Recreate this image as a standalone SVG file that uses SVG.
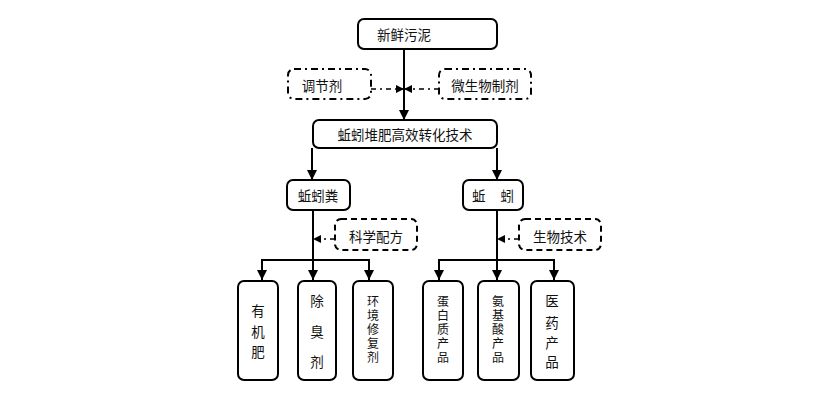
<svg xmlns="http://www.w3.org/2000/svg" width="840" height="399" viewBox="0 0 840 399">
<style>
.box{fill:#fff;stroke:#000;stroke-width:2}
.dd{fill:#fff;stroke:#000;stroke-width:2;stroke-dasharray:7 4 2 4}
.ds{fill:#fff;stroke:#000;stroke-width:2;stroke-dasharray:6 4}
.ln{fill:none;stroke:#000;stroke-width:2}
.dl{fill:none;stroke:#000;stroke-width:1.6;stroke-dasharray:5 4 2 4}
text{font-family:"Liberation Sans","Noto Sans CJK SC","Noto Sans CJK JP",sans-serif;font-size:13.5px;fill:#111;text-anchor:middle;dominant-baseline:central}
text.s{font-size:12px}
</style>
<defs>
<marker id="ah" viewBox="0 0 10 10" refX="10" refY="5" markerWidth="5" markerHeight="5" orient="auto" markerUnits="strokeWidth"><path d="M0,0 L10,5 L0,10 z" fill="#000"/></marker>
<marker id="as" viewBox="0 0 10 10" refX="10" refY="5" markerWidth="5" markerHeight="5" orient="auto" markerUnits="strokeWidth"><path d="M0,0 L10,5 L0,10 z" fill="#000"/></marker>
</defs>
<g id="connectors">
<path class="ln" d="M404,49 V120" marker-end="url(#ah)"/>
<path class="dl" d="M371,89 H404" marker-end="url(#as)"/>
<path class="dl" d="M439,89 H404" marker-end="url(#as)"/>
<path class="ln" d="M312,148 V180" marker-end="url(#ah)"/>
<path class="ln" d="M497,148 V180" marker-end="url(#ah)"/>
<path class="ln" d="M313,210 V280" marker-end="url(#ah)"/>
<path class="ln" d="M262,280 V260 H369 V280" marker-end="url(#ah)"/>
<path class="ln" d="M262,260 V280" marker-end="url(#ah)"/>
<path class="dl" d="M335,239 H313" marker-end="url(#as)"/>
<path class="ln" d="M497,210 V280" marker-end="url(#ah)"/>
<path class="ln" d="M439,280 V260 H554 V280" marker-end="url(#ah)"/>
<path class="ln" d="M439,260 V280" marker-end="url(#ah)"/>
<path class="dl" d="M519,239 H497" marker-end="url(#as)"/>
</g>
<g id="n1"><rect class="box" x="358" y="19" width="139" height="30" rx="6"/><text x="404" y="35">新鲜污泥</text></g>
<g id="n2"><rect class="dd" x="288" y="69" width="83" height="30" rx="6"/><text x="322" y="86">调节剂</text></g>
<g id="n3"><rect class="dd" x="439" y="69" width="92" height="30" rx="6"/><text x="485" y="86">微生物制剂</text></g>
<g id="n4"><rect class="box" x="313" y="120" width="184" height="28" rx="6"/><text x="405" y="135">蚯蚓堆肥高效转化技术</text></g>
<g id="n5"><rect class="box" x="287" y="180" width="63" height="30" rx="6"/><text x="318" y="196">蚯蚓粪</text></g>
<g id="n6"><rect class="box" x="463" y="180" width="60" height="30" rx="6"/><text x="493" y="196" xml:space="preserve">蚯    蚓</text></g>
<g id="n7"><rect class="ds" x="335" y="219" width="82" height="31" rx="6"/><text x="376" y="237">科学配方</text></g>
<g id="n8"><rect class="ds" x="519" y="219" width="82" height="31" rx="6"/><text x="560" y="237">生物技术</text></g>
<g id="n9"><rect class="box" x="238" y="281" width="40" height="99" rx="6"/><text x="258" y="311">有</text><text x="258" y="332">机</text><text x="258" y="352">肥</text></g>
<g id="n10"><rect class="box" x="298" y="281" width="38" height="99" rx="6"/><text x="317" y="301">除</text><text x="317" y="332">臭</text><text x="317" y="362">剂</text></g>
<g id="n11"><rect class="box" x="353" y="281" width="40" height="99" rx="6"/><text class="s" x="373" y="302">环</text><text class="s" x="373" y="316">境</text><text class="s" x="373" y="330">修</text><text class="s" x="373" y="344">复</text><text class="s" x="373" y="358">剂</text></g>
<g id="n12"><rect class="box" x="423" y="281" width="40" height="99" rx="6"/><text class="s" x="443" y="302">蛋</text><text class="s" x="443" y="316">白</text><text class="s" x="443" y="330">质</text><text class="s" x="443" y="344">产</text><text class="s" x="443" y="358">品</text></g>
<g id="n13"><rect class="box" x="478" y="281" width="41" height="99" rx="6"/><text class="s" x="498" y="302">氨</text><text class="s" x="498" y="316">基</text><text class="s" x="498" y="330">酸</text><text class="s" x="498" y="344">产</text><text class="s" x="498" y="358">品</text></g>
<g id="n14"><rect class="box" x="531" y="281" width="43" height="99" rx="6"/><text x="552" y="301">医</text><text x="552" y="323">药</text><text x="552" y="343">产</text><text x="552" y="362">品</text></g>
</svg>
